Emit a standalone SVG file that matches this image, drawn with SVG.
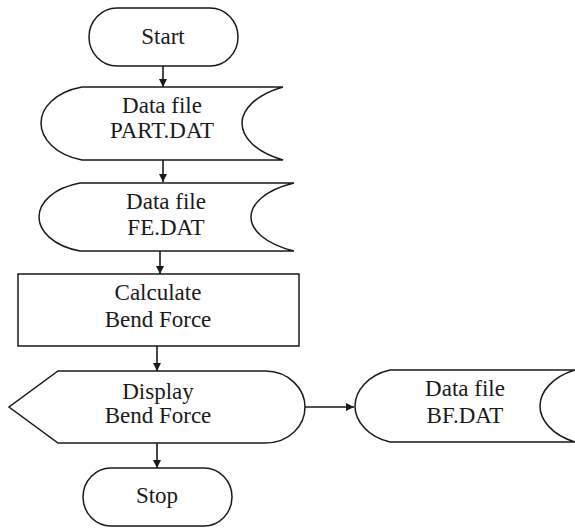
<svg xmlns="http://www.w3.org/2000/svg" width="575" height="528" viewBox="0 0 575 528">
  <style>
    .shape { fill: #ffffff; stroke: #1a1a1a; stroke-width: 1.5; }
    .lbl { font-family: "Liberation Serif", "Times New Roman", serif; font-size: 23px; fill: #1a1a1a; text-anchor: middle; }
    .conn { stroke: #1a1a1a; stroke-width: 1.6; fill: none; marker-end: url(#arrow); }
  </style>
  <defs>
    <marker id="arrow" viewBox="0 0 10 10" refX="10" refY="5" markerWidth="8" markerHeight="8" markerUnits="userSpaceOnUse" orient="auto">
      <path d="M0,0 L10,5 L0,10 Z" fill="#1a1a1a"/>
    </marker>
  </defs>

  <rect width="575" height="528" fill="#ffffff"/>

  <g id="connectors">
    <line class="conn" x1="163" y1="66" x2="163" y2="87"/>
    <line class="conn" x1="163" y1="160" x2="163" y2="182"/>
    <line class="conn" x1="160" y1="251" x2="160" y2="274"/>
    <line class="conn" x1="157" y1="346" x2="157" y2="371"/>
    <line class="conn" x1="305" y1="407" x2="354" y2="407"/>
    <line class="conn" x1="157" y1="443" x2="157" y2="468"/>
  </g>

  <g id="start">
    <rect class="shape" x="89" y="8" width="149" height="58" rx="28" ry="29"/>
    <text class="lbl" x="163" y="44">Start</text>
  </g>

  <g id="part-dat">
    <path class="shape" d="M82,87 L283,87 C255,95 242,110 242,123 C242,137 255,152 283,160 L82,160 C55,155 41,138 41,123 C41,108 55,92 82,87 Z"/>
    <text class="lbl" x="162" y="113">Data file</text>
    <text class="lbl" x="162" y="138">PART.DAT</text>
  </g>

  <g id="fe-dat">
    <path class="shape" d="M80,183 L294,183 C265,190 251,204 251,217 C251,230 265,244 294,251 L80,251 C53,246 39,231 39,217 C39,203 53,188 80,183 Z"/>
    <text class="lbl" x="166" y="209">Data file</text>
    <text class="lbl" x="166" y="235">FE.DAT</text>
  </g>

  <g id="calculate">
    <rect class="shape" x="18" y="274" width="281" height="72"/>
    <text class="lbl" x="158" y="300">Calculate</text>
    <text class="lbl" x="158" y="327">Bend Force</text>
  </g>

  <g id="display">
    <path class="shape" d="M58,371 L265,371 C290,371 305,390 305,407 C305,425 290,443 265,443 L58,443 L9,407 Z"/>
    <text class="lbl" x="158" y="399">Display</text>
    <text class="lbl" x="158" y="423">Bend Force</text>
  </g>

  <g id="bf-dat">
    <path class="shape" d="M390,370 L575,370 C552,377 540,392 540,406 C540,420 552,435 575,442 L390,442 C368,437 355,421 355,406 C355,391 368,375 390,370 Z"/>
    <text class="lbl" x="465" y="396">Data file</text>
    <text class="lbl" x="465" y="423">BF.DAT</text>
  </g>

  <g id="stop">
    <rect class="shape" x="83" y="468" width="149" height="58" rx="28" ry="29"/>
    <text class="lbl" x="157" y="503">Stop</text>
  </g>
</svg>
